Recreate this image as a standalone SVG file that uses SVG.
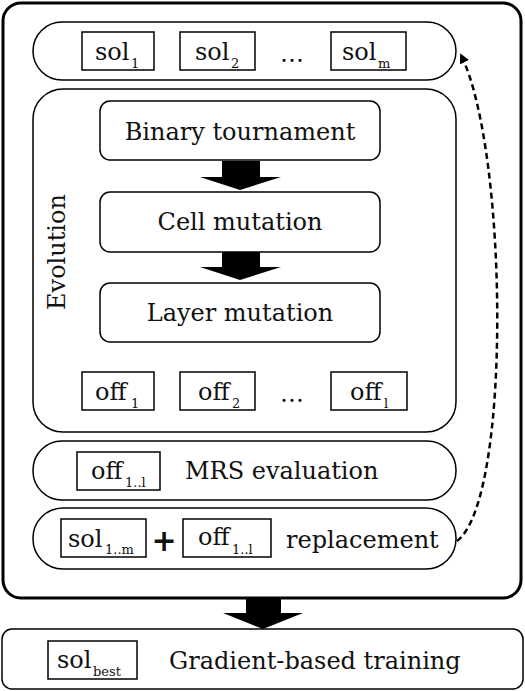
<svg xmlns="http://www.w3.org/2000/svg" width="525" height="691" viewBox="0 0 525 691">
<style>
text{font-family:"DejaVu Serif","Liberation Serif",serif;fill:#111}
.pill{fill:#fff;stroke:#000;stroke-width:1.5}
.box{fill:#fff;stroke:#000;stroke-width:1.5}
.lbl{font-size:24px}
.big{font-size:24px;text-anchor:middle}
.sub{font-size:13px}
.blk{fill:#000}
</style>
<defs>
<marker id="ah" markerWidth="10" markerHeight="10" refX="8" refY="5" orient="auto" markerUnits="userSpaceOnUse" viewBox="0 0 10 10">
<path d="M0,0 L10,5 L0,10 z" fill="#000"/>
</marker>
</defs>
<g id="outer"><rect x="3" y="3" width="518" height="595" rx="18" fill="#fff" stroke="#000" stroke-width="3"/></g>
<g id="population">
<rect class="pill" x="33" y="22" width="423" height="58" rx="29"/>
<rect class="box" x="82" y="32" width="72" height="38"/>
<text class="lbl" x="95" y="60">sol</text><text class="sub" x="131" y="68" fill="#224">1</text>
<rect class="box" x="180" y="32" width="75" height="38"/>
<text class="lbl" x="195" y="60">sol</text><text class="sub" x="231" y="68">2</text>
<text class="lbl" x="280" y="62">…</text>
<rect class="box" x="331" y="32" width="75" height="38"/>
<text class="lbl" x="342" y="60">sol</text><text class="sub" x="378" y="68" fill="#312">m</text>
</g>
<g id="evolution">
<rect class="pill" x="33" y="89" width="423" height="343" rx="30"/>
<text class="lbl" transform="translate(65,252) rotate(-90)" text-anchor="middle">Evolution</text>
</g>
<g id="binary">
<rect class="box" x="100" y="101" width="280" height="59" rx="10"/>
<text class="big" x="240" y="140">Binary tournament</text>
</g>
<g id="cell">
<rect class="box" x="100" y="192" width="280" height="60" rx="10"/>
<text class="big" x="240" y="230">Cell mutation</text>
</g>
<g id="layer">
<rect class="box" x="100" y="283" width="280" height="59" rx="10"/>
<text class="big" x="240" y="321">Layer mutation</text>
</g>
<g id="offspring">
<rect class="box" x="82" y="372" width="72" height="38"/>
<text class="lbl" x="95" y="400">off</text><text class="sub" x="131" y="408" fill="#822">1</text>
<rect class="box" x="180" y="372" width="75" height="38"/>
<text class="lbl" x="198" y="400">off</text><text class="sub" x="232" y="408">2</text>
<text class="lbl" x="280" y="402">…</text>
<rect class="box" x="331" y="372" width="76" height="38"/>
<text class="lbl" x="350" y="400">off</text><text class="sub" x="384" y="408">l</text>
</g>
<g id="mrs">
<rect class="pill" x="33" y="441" width="423" height="59" rx="29"/>
<rect class="box" x="77" y="452" width="83" height="38"/>
<text class="lbl" x="91" y="479">off</text><text class="sub" x="125" y="487">1..l</text>
<text class="lbl" x="185" y="479">MRS evaluation</text>
</g>
<g id="replacement">
<rect class="pill" x="33" y="508" width="423" height="61" rx="30"/>
<rect class="box" x="61" y="519" width="85" height="38"/>
<text class="lbl" x="68" y="547">sol</text><text class="sub" x="105" y="554">1..m</text>
<text x="164" y="551" style="font-size:30px;font-weight:bold;font-family:'DejaVu Sans',sans-serif" text-anchor="middle">+</text>
<rect class="box" x="183" y="519" width="88" height="38"/>
<text class="lbl" x="198" y="545">off</text><text class="sub" x="232" y="554">1..l</text>
<text class="lbl" x="286" y="548">replacement</text>
</g>
<g id="training">
<rect class="box" x="2" y="629" width="521" height="60" rx="10"/>
<rect class="box" x="48" y="641" width="89" height="38"/>
<text class="lbl" x="57" y="668">sol</text><text class="sub" x="93" y="676">best</text>
<text class="lbl" x="169" y="669">Gradient-based training</text>
</g>
<g id="connectors">
<polygon class="blk" points="222,161 260,161 260,177 281,177 240,190 200,177 222,177"/>
<polygon class="blk" points="222,252 260,252 260,267 281,267 240,280 200,267 222,267"/>
<polygon class="blk" points="246,599 281,599 281,613 303,613 263,629 223,613 246,613"/>
<path d="M457,541 C512,500 508,150 461,55" fill="none" stroke="#000" stroke-width="2.5" stroke-dasharray="6,4" marker-end="url(#ah)"/>
</g>
</svg>
